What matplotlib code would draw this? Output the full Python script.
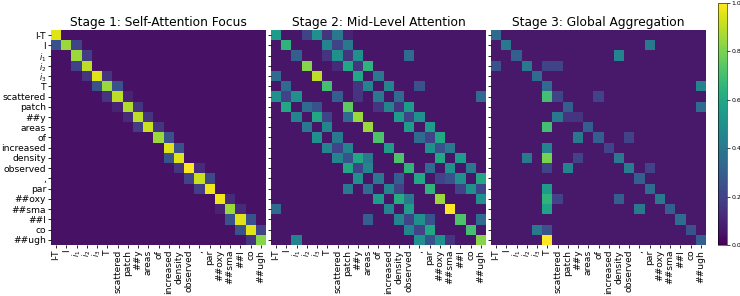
import numpy as np
import matplotlib
matplotlib.use("Agg")
import matplotlib.pyplot as plt

tokens = ["I-T", "I", "$i_1$", "$i_2$", "$i_3$", "T", "scattered", "patch", "##y",
          "areas", "of", "increased", "density", "observed", ",", "par", "##oxy",
          "##sma", "##l", "co", "##ugh"]

titles = ["Stage 1: Self-Attention Focus", "Stage 2: Mid-Level Attention",
          "Stage 3: Global Aggregation"]

base_levels = [0.05, 0.06, 0.07]

# (row, col, value) notable cells
stage1_cells = [
    (0, 0, 0.95), (1, 0, 0.25), (1, 1, 0.85), (1, 2, 0.2), (2, 2, 0.85), (2, 3, 0.18),
    (3, 2, 0.2), (3, 3, 0.9), (4, 3, 0.15), (4, 4, 0.95), (4, 5, 0.15),
    (5, 4, 0.25), (5, 5, 0.85), (5, 6, 0.25), (6, 5, 0.15), (6, 6, 0.9), (6, 7, 0.1),
    (7, 6, 0.1), (7, 7, 0.88), (7, 8, 0.15), (8, 7, 0.12), (8, 8, 0.9), (8, 9, 0.15),
    (9, 8, 0.18), (9, 9, 0.92), (9, 10, 0.15), (10, 10, 0.85), (10, 11, 0.25),
    (11, 11, 0.95), (11, 12, 0.25), (12, 11, 0.25), (12, 12, 0.95),
    (13, 12, 0.15), (13, 13, 1.0), (13, 14, 0.12), (14, 13, 0.2), (14, 14, 0.92),
    (14, 15, 0.22), (15, 14, 0.18), (15, 15, 0.98), (16, 16, 0.98), (16, 17, 0.12),
    (17, 16, 0.1), (17, 17, 0.85), (17, 18, 0.12), (18, 17, 0.25), (18, 18, 0.95),
    (18, 19, 0.25), (19, 18, 0.25), (19, 19, 0.95), (19, 20, 0.2),
    (20, 19, 0.15), (20, 20, 0.82),
]

stage2_cells = [
    (0, 0, 0.55), (0, 3, 0.2), (0, 4, 0.5), (0, 5, 0.15), (0, 6, 0.4), (0, 7, 0.1),
    (1, 1, 0.65), (1, 5, 0.45), (1, 6, 0.2), (1, 7, 0.4),
    (2, 2, 0.3), (2, 5, 0.15), (2, 6, 0.5), (2, 7, 0.15), (2, 8, 0.5), (2, 13, 0.35),
    (3, 3, 0.82), (3, 6, 0.12), (3, 7, 0.6), (3, 8, 0.15), (3, 9, 0.65),
    (4, 0, 0.35), (4, 4, 0.9), (4, 8, 0.6), (4, 10, 0.4),
    (5, 1, 0.35), (5, 5, 0.7), (5, 8, 0.15), (5, 9, 0.45), (5, 11, 0.45), (5, 14, 0.25),
    (6, 0, 0.5), (6, 1, 0.2), (6, 2, 0.5), (6, 6, 0.3), (6, 8, 0.15), (6, 10, 0.4),
    (6, 12, 0.35), (6, 20, 0.35),
    (7, 1, 0.6), (7, 3, 0.35), (7, 4, 0.25), (7, 7, 0.75), (7, 10, 0.15), (7, 11, 0.45),
    (7, 12, 0.15), (7, 13, 0.55),
    (8, 2, 0.45), (8, 4, 0.6), (8, 5, 0.2), (8, 7, 0.35), (8, 8, 0.85), (8, 12, 0.55),
    (8, 13, 0.2), (8, 14, 0.5),
    (9, 3, 0.4), (9, 5, 0.45), (9, 9, 0.85), (9, 13, 0.55), (9, 15, 0.55),
    (10, 4, 0.5), (10, 6, 0.4), (10, 10, 0.72), (10, 14, 0.35), (10, 15, 0.2), (10, 16, 0.6),
    (11, 5, 0.45), (11, 6, 0.2), (11, 7, 0.45), (11, 11, 0.55), (11, 15, 0.5),
    (11, 16, 0.25), (11, 17, 0.4),
    (12, 6, 0.45), (12, 7, 0.25), (12, 8, 0.6), (12, 9, 0.4), (12, 12, 0.72),
    (12, 16, 0.6), (12, 18, 0.55),
    (13, 7, 0.6), (13, 8, 0.2), (13, 9, 0.45), (13, 13, 0.65), (13, 15, 0.35),
    (13, 17, 0.5), (13, 19, 0.4),
    (14, 8, 0.5), (14, 10, 0.4), (14, 12, 0.3), (14, 14, 0.6), (14, 16, 0.2),
    (14, 17, 0.25), (14, 18, 0.5), (14, 20, 0.6),
    (15, 7, 0.4), (15, 9, 0.35), (15, 11, 0.45), (15, 12, 0.2), (15, 15, 0.65),
    (15, 18, 0.2), (15, 19, 0.5), (15, 20, 0.2),
    (16, 10, 0.55), (16, 12, 0.62), (16, 13, 0.4), (16, 16, 0.85), (16, 20, 0.5),
    (17, 0, 0.35), (17, 11, 0.45), (17, 13, 0.55), (17, 17, 1.0),
    (18, 9, 0.3), (18, 12, 0.45), (18, 13, 0.2), (18, 14, 0.5), (18, 15, 0.25),
    (18, 18, 0.72), (18, 20, 0.35),
    (19, 13, 0.45), (19, 14, 0.2), (19, 15, 0.6), (19, 19, 0.7),
    (20, 2, 0.45), (20, 14, 0.5), (20, 15, 0.25), (20, 16, 0.5), (20, 17, 0.15),
    (20, 20, 0.82),
]

stage3_cells = [
    (0, 0, 0.35), (1, 1, 0.4), (1, 15, 0.4), (2, 2, 0.3), (2, 12, 0.45),
    (3, 0, 0.25), (3, 3, 0.4), (3, 5, 0.2), (3, 6, 0.2), (4, 4, 0.35),
    (5, 5, 0.35), (5, 20, 0.45), (6, 5, 0.7), (6, 6, 0.2), (6, 10, 0.2),
    (7, 7, 0.3), (7, 20, 0.35), (8, 6, 0.4), (8, 7, 0.15), (8, 8, 0.15),
    (9, 5, 0.7), (9, 9, 0.3), (10, 8, 0.4), (10, 10, 0.3), (10, 13, 0.2),
    (11, 5, 0.45), (11, 11, 0.2), (12, 3, 0.4), (12, 5, 0.8), (12, 8, 0.2), (12, 12, 0.4),
    (13, 5, 0.2), (13, 7, 0.45), (13, 13, 0.42), (13, 15, 0.2), (14, 14, 0.3),
    (15, 5, 0.55), (15, 15, 0.35), (16, 5, 0.65), (16, 6, 0.2), (16, 12, 0.3),
    (16, 16, 0.4), (17, 5, 0.58), (17, 14, 0.4), (17, 17, 0.3), (18, 18, 0.35),
    (19, 4, 0.4), (19, 5, 0.25), (19, 19, 0.25), (20, 5, 1.0), (20, 20, 0.3),
]

n = len(tokens)


def build(cells, base):
    m = np.full((n, n), base)
    for r, c, v in cells:
        m[r, c] = v
    return m


mats = [build(stage1_cells, base_levels[0]),
        build(stage2_cells, base_levels[1]),
        build(stage3_cells, base_levels[2])]

W, H = 740, 296
fig = plt.figure(figsize=(W / 100, H / 100), dpi=100)


def style_labels(labels):
    for lab in labels:
        if lab.get_text().startswith("$"):
            lab.set_fontsize(5.8)


lefts = [51, 271, 491]
top, size = 30, 215
im = None
for i, (m, t) in enumerate(zip(mats, titles)):
    ax = fig.add_axes([lefts[i] / W, (H - top - size) / H, size / W, size / H])
    im = ax.imshow(m, cmap="viridis", vmin=0, vmax=1, aspect="auto",
                   interpolation="nearest")
    ax.set_title(t, fontsize=8.8, pad=3)
    ax.set_xticks(range(n))
    style_labels(ax.set_xticklabels(tokens, rotation=90, fontsize=6.6))
    ax.set_yticks(range(n))
    if i == 0:
        style_labels(ax.set_yticklabels(tokens, fontsize=6.6))
    else:
        ax.set_yticklabels([])
        ax.tick_params(axis="y", length=0)
    ax.tick_params(length=2, width=0.6, pad=1.5)
    for s in ax.spines.values():
        s.set_visible(False)

cax = fig.add_axes([718 / W, (H - 245) / H, 9 / W, 242 / H])
cb = fig.colorbar(im, cax=cax)
cb.set_ticks([0, 0.2, 0.4, 0.6, 0.8, 1.0])
cb.ax.tick_params(labelsize=4.5, length=2, width=0.5, pad=1)
cb.outline.set_linewidth(0.4)

fig.savefig("out.png", dpi=100)
